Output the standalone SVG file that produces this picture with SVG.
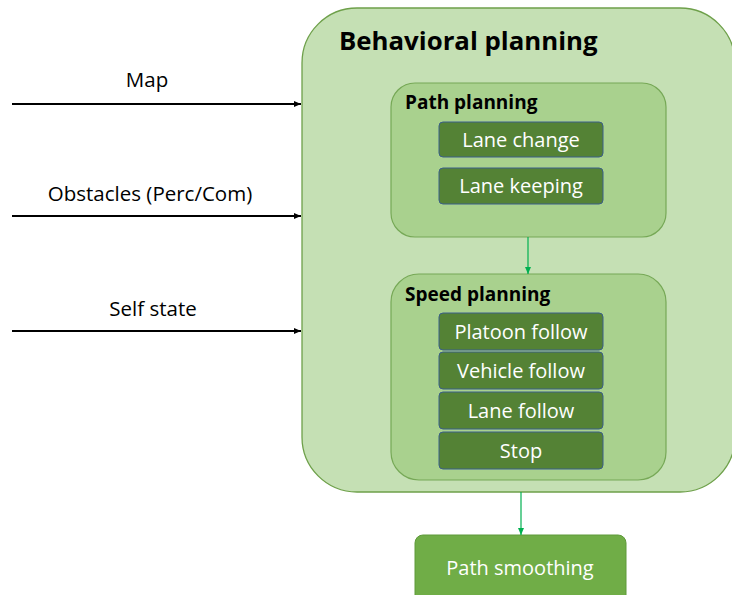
<svg xmlns="http://www.w3.org/2000/svg" width="732" height="595" viewBox="0 0 732 595">
  <defs>
    <marker id="arrBlack" markerWidth="8" markerHeight="8" refX="7" refY="4" orient="auto" markerUnits="userSpaceOnUse">
      <path d="M0,1 L7,4 L0,7 Z" fill="#000"/>
    </marker>
    <marker id="arrGreen" markerWidth="8" markerHeight="8" refX="7" refY="4" orient="auto" markerUnits="userSpaceOnUse">
      <path d="M0,1 L7,4 L0,7 Z" fill="#00B050"/>
    </marker>
  </defs>
  <style>
    text { font-family: "Open Sans", "Noto Sans", sans-serif; }
    .outer { fill: #C5E0B4; stroke: #6EA04A; stroke-width: 1.3; }
    .inner { fill: #A9D18E; stroke: #76A856; stroke-width: 1.2; }
    .item { fill: #548235; stroke: #3B5E8A; stroke-width: 1; }
    .smooth { fill: #70AD47; stroke: #5E9A3A; stroke-width: 1; }
    .title { font-size: 25.8px; font-weight: bold; fill: #000; }
    .sub { font-size: 19px; font-weight: bold; fill: #000; }
    .lbl { font-size: 20px; fill: #FFFFFF; text-anchor: middle; }
    .in { font-size: 20.5px; fill: #000; text-anchor: middle; }
    .wire { stroke: #000; stroke-width: 2; fill: none; }
    .gwire { stroke: #00B050; stroke-width: 1.2; fill: none; }
  </style>

  <g id="behavioral-planning">
    <rect class="outer" x="302" y="8" width="433" height="484" rx="55" ry="55"/>
    <text class="title" x="339" y="50">Behavioral planning</text>
  </g>

  <g id="path-planning">
    <rect class="inner" x="391" y="83" width="275" height="154" rx="24" ry="24"/>
    <text class="sub" x="405" y="109">Path planning</text>
  </g>
  <g id="lane-change">
    <rect class="item" x="439" y="122" width="164" height="35" rx="4"/>
    <text class="lbl" x="521" y="147">Lane change</text>
  </g>
  <g id="lane-keeping">
    <rect class="item" x="439" y="168" width="164" height="36" rx="4"/>
    <text class="lbl" x="521" y="193">Lane keeping</text>
  </g>

  <g id="speed-planning">
    <rect class="inner" x="391" y="274" width="275" height="206" rx="28" ry="28"/>
    <text class="sub" x="405" y="301">Speed planning</text>
  </g>
  <g id="platoon-follow">
    <rect class="item" x="439" y="313" width="164" height="37" rx="4"/>
    <text class="lbl" x="521" y="339">Platoon follow</text>
  </g>
  <g id="vehicle-follow">
    <rect class="item" x="439" y="352" width="164" height="37" rx="4"/>
    <text class="lbl" x="521" y="378">Vehicle follow</text>
  </g>
  <g id="lane-follow">
    <rect class="item" x="439" y="392" width="164" height="37" rx="4"/>
    <text class="lbl" x="521" y="418">Lane follow</text>
  </g>
  <g id="stop">
    <rect class="item" x="439" y="432" width="164" height="37" rx="4"/>
    <text class="lbl" x="521" y="458">Stop</text>
  </g>

  <g id="path-smoothing">
    <rect class="smooth" x="415" y="535" width="211" height="70" rx="8"/>
    <text class="lbl" x="520" y="575">Path smoothing</text>
  </g>

  <g id="inputs">
    <text class="in" x="147" y="87">Map</text>
    <text class="in" x="150" y="201">Obstacles (Perc/Com)</text>
    <text class="in" x="153" y="316">Self state</text>
  </g>

  <g id="connectors">
    <line class="wire" x1="12" y1="104" x2="301" y2="104" marker-end="url(#arrBlack)"/>
    <line class="wire" x1="12" y1="216" x2="301" y2="216" marker-end="url(#arrBlack)"/>
    <line class="wire" x1="12" y1="331" x2="301" y2="331" marker-end="url(#arrBlack)"/>
    <line class="gwire" x1="528" y1="237" x2="528" y2="274" marker-end="url(#arrGreen)"/>
    <line class="gwire" x1="521" y1="492" x2="521" y2="535" marker-end="url(#arrGreen)"/>
  </g>
</svg>
